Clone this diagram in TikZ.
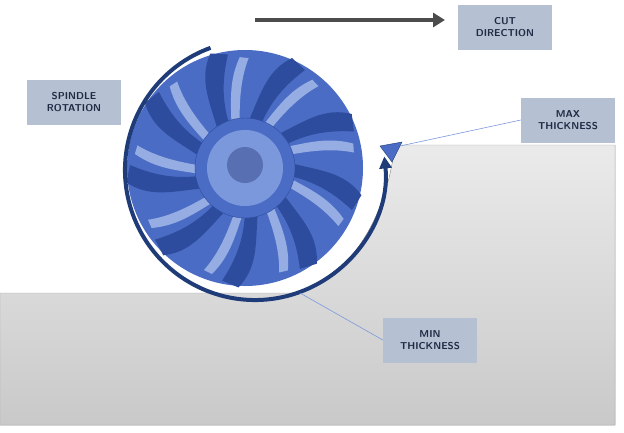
\documentclass[tikz,border=0pt]{standalone}
\usepackage{tikz}
\usetikzlibrary{arrows.meta,calc}
\definecolor{boxfill}{HTML}{B5C0D2}
\definecolor{boxtext}{HTML}{1F2A44}
\definecolor{cutter}{HTML}{4A6CC4}
\definecolor{cutterdark}{HTML}{2E4C9E}
\definecolor{cutterlight}{HTML}{7C98DC}
\definecolor{arcblue}{HTML}{1F3C78}
\definecolor{stock}{HTML}{D6D6D6}
\tikzset{
	label box/.style={fill=boxfill, text=boxtext, font=\sffamily\bfseries, align=center, minimum width=94pt, minimum height=45pt, inner sep=2pt},
	leader/.style={draw=cutterlight, line width=0.6pt}
}
\begin{document}
\begin{tikzpicture}[x=1pt, y=-1pt]
	\useasboundingbox (0,0) rectangle (624,432);

	% workpiece
	\fill[top color=stock!50, bottom color=stock!85!gray, draw=gray!70] (0,293) -- (300,293) .. controls (360,270) and (388,205) .. (395,145) -- (615,145) -- (615,425) -- (0,425) -- cycle;

	% cutter
	\fill[cutter] (245,168) circle (118);
	\foreach \a in {0,40,...,320}
		\fill[cutterdark, rotate around={\a:(245,168)}] (250,118) .. controls (262,90) and (268,70) .. (292,58) -- (305,70) .. controls (285,85) and (272,100) .. (262,122) -- cycle;
	\foreach \a in {20,60,...,340}
		\fill[cutterlight!80, rotate around={\a:(245,168)}] (248,120) .. controls (256,95) and (262,78) .. (278,62) -- (286,66) .. controls (272,82) and (264,100) .. (256,122) -- cycle;
	\fill[cutter, draw=cutterdark] (245,168) circle (50);
	\fill[cutterlight] (245,168) circle (38);
	\fill[cutterdark!80] (245,165) circle (18);

	% chip wedge
	\fill[cutter, draw=arcblue] (380,146) -- (402,142) -- (392,162) -- cycle;

	% rotation arc
	\draw[arcblue, line width=4pt, -{Triangle[length=12pt,width=12pt]}] ($(255,170)+(-110:130)$) arc[start angle=-110, end angle=-366, radius=130];

	% cut direction
	\coordinate (cutfrom) at (255,20);
	\coordinate (cutto) at (445,20);
	\draw[gray!60!black, line width=4pt, -{Triangle[length=12pt,width=14pt]}] (cutfrom) -- (cutto);

	% labels
	\node[label box] (cut) at (505,27) {CUT\\DIRECTION};
	\node[label box] (spindle) at (74,102) {SPINDLE\\ROTATION};
	\node[label box] (max) at (568,120) {MAX\\THICKNESS};
	\node[label box] (min) at (430,340) {MIN\\THICKNESS};

	\coordinate (maxpt) at (400,146);
	\coordinate (minpt) at (300,293);
	\draw[leader] (max.west) -- (maxpt);
	\draw[leader] (min.west) -- (minpt);
\end{tikzpicture}
\end{document}
